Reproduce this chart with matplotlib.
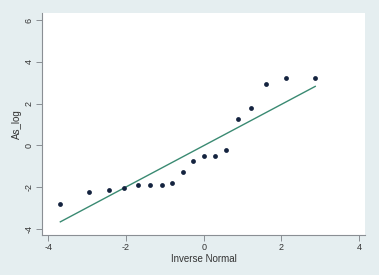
import numpy as np
import matplotlib
matplotlib.use("Agg")
import matplotlib.pyplot as plt

plt.rcParams['font.family'] = ['Liberation Sans', 'DejaVu Sans']

# Quantile points
inv_normal = [-3.71, -2.95, -2.44, -2.04, -1.70, -1.37, -1.08, -0.81, -0.54,
              -0.27, 0.00, 0.28, 0.57, 0.88, 1.22, 1.61, 2.13, 2.87]
as_log = [-2.81, -2.21, -2.13, -2.05, -1.89, -1.89, -1.89, -1.78, -1.28,
          -0.75, -0.49, -0.49, -0.22, 1.27, 1.78, 2.93, 3.24, 3.24]

# Reference line ends
ref_x = [-3.69, 2.87]
ref_y = [-3.66, 2.83]

xticks = [-4, -2, 0, 2, 4]
yticks = [-4, -2, 0, 2, 4, 6]

bg = '#e5eef0'
fig = plt.figure(figsize=(3.79, 2.75), dpi=100, facecolor=bg)
ax = fig.add_axes([0.111, 0.1455, 0.852, 0.809])
ax.set_facecolor('white')

ax.plot(ref_x, ref_y, color='#3a8a72', linewidth=1.0, zorder=2)
ax.scatter(inv_normal, as_log, s=12, color='#14233f', zorder=3, linewidths=0)

ax.set_xlim(-4.16, 4.15)
ax.set_ylim(-4.29, 6.37)
ax.set_xticks(xticks)
ax.set_yticks(yticks)
ax.set_xticklabels([str(t) for t in xticks])
ax.set_yticklabels([str(t) for t in yticks], rotation=90, va='center')

for s in ['top', 'right']:
    ax.spines[s].set_visible(False)
for s in ['left', 'bottom']:
    ax.spines[s].set_color('#8a8f94')
    ax.spines[s].set_linewidth(0.8)
ax.tick_params(length=4, width=0.7, color='#8a8f94', labelsize=6.5,
               labelcolor='#333333', pad=2)

ax.set_xlabel('Inverse Normal', fontsize=7, color='#333333', labelpad=1)
ax.set_ylabel('As_log', fontsize=7, color='#333333', labelpad=2)

fig.savefig('out.png', dpi=100, facecolor=bg)
